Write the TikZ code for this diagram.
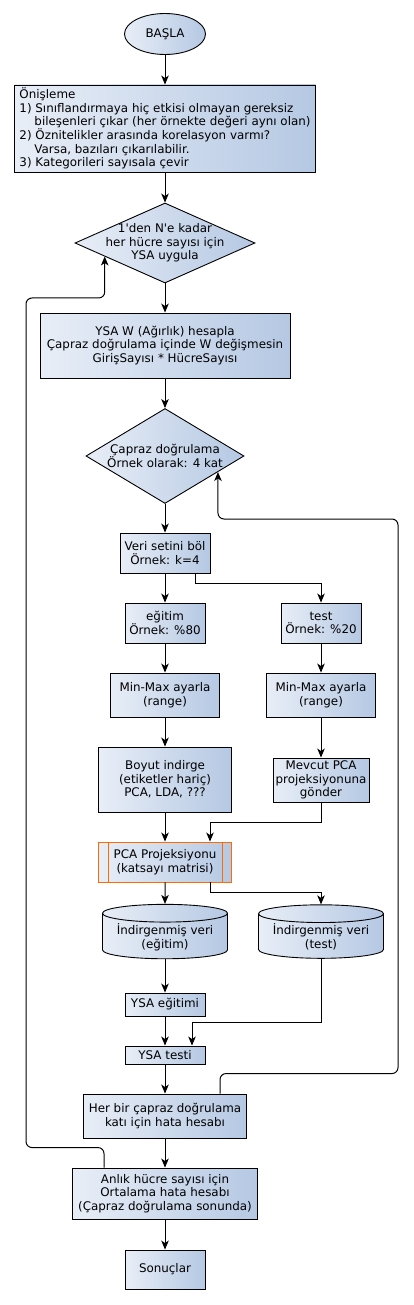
\documentclass[tikz,border=0pt]{standalone}
\usepackage{fontspec}
\setmainfont{DejaVu Sans}
\usetikzlibrary{arrows.meta,shapes.geometric,calc}

\definecolor{kutusol}{HTML}{E8EEF7}
\definecolor{kutusag}{HTML}{B5C8E3}
\definecolor{turuncu}{HTML}{FF6A00}

\tikzset{
	kutu/.style={draw, line width=0.9pt, left color=kutusol, right color=kutusag, align=center, inner sep=1pt},
	ok/.style={line width=1pt, -{Stealth[length=9pt,width=7.5pt,inset=2.5pt]}},
	silindir/.style={kutu, cylinder, shape border rotate=90, aspect=0.18, minimum width=125pt, minimum height=48pt},
	karar/.style={kutu, diamond, inner sep=0pt}
}

\begin{document}
\begin{tikzpicture}[x=1pt, y=-1pt, font=\fontsize{11.9}{13.6}\selectfont]
	
	\useasboundingbox (0,0) rectangle (414,1305);
	
	% start
	\node [kutu, ellipse, minimum width=81pt, minimum height=41pt] (basla) at (165,34) {BAŞLA};
	
	% preprocessing
	\node [kutu, align=left, minimum width=301pt, minimum height=87pt] (onisleme) at (165,128.5) {Önişleme\\
		1) Sınıflandırmaya hiç etkisi olmayan gereksiz\\
		\hspace*{15pt}bileşenleri çıkar (her örnekte değeri aynı olan)\\
		2) Öznitelikler arasında korelasyon varmı?\\
		\hspace*{15pt}Varsa, bazıları çıkarılabilir.\\
		3) Kategorileri sayısala çevir};
	
	% loop over cell counts
	\node [karar, minimum width=180pt, minimum height=80pt] (hucre) at (165,243) {};
	\node [align=center] (hucreyazi) at (hucre) {1\textquotesingle den N\textquotesingle e kadar\\her hücre sayısı için\\YSA uygula};
	
	% weights
	\node [kutu, minimum width=250pt, minimum height=65pt] (agirlik) at (165,345.5) {YSA W (Ağırlık) hesapla\\Çapraz doğrulama içinde W değişmesin\\GirişSayısı * HücreSayısı};
	
	% cross validation loop
	\node [karar, minimum width=158pt, minimum height=95pt] (kfold) at (165,456) {};
	\node [align=center] (kfoldyazi) at (kfold) {Çapraz doğrulama\\Örnek olarak: 4 kat};
	
	% split
	\node [kutu, minimum width=90pt, minimum height=40pt] (bol) at (165,553) {Veri setini böl\\Örnek: k=4};
	\node [kutu, minimum width=80pt, minimum height=40pt] (egitim) at (165,623) {eğitim\\Örnek: \%80};
	\node [kutu, minimum width=80pt, minimum height=40pt] (test) at (321,623) {test\\Örnek: \%20};
	
	% normalization
	\node [kutu, minimum width=109pt, minimum height=44pt] (minmaxe) at (165,695) {Min-Max ayarla\\(range)};
	\node [kutu, minimum width=109pt, minimum height=44pt] (minmaxt) at (321,695) {Min-Max ayarla\\(range)};
	
	% dimension reduction
	\node [kutu, minimum width=133pt, minimum height=65pt] (boyut) at (165,779.5) {Boyut indirge\\(etiketler hariç)\\PCA, LDA, ???};
	\node [kutu, minimum width=96pt, minimum height=44pt, inner sep=0pt] (mevcut) at (321,780) {Mevcut PCA\\projeksiyonuna\\gönder};
	
	% projection
	\node [kutu, draw=turuncu, minimum width=133pt, minimum height=40pt] (pca) at (165,862) {PCA Projeksiyonu\\(katsayı matrisi)};
	\draw [turuncu, line width=0.9pt] ([xshift=10pt]pca.north west) -- ([xshift=10pt]pca.south west);
	\draw [turuncu, line width=0.9pt] ([xshift=-10pt]pca.north east) -- ([xshift=-10pt]pca.south east);
	
	% reduced data
	\node [silindir] (indirgene) at (165,937) {İndirgenmiş veri\\(eğitim)};
	\node [silindir] (indirgent) at (321,937) {İndirgenmiş veri\\(test)};
	
	% network
	\node [kutu, minimum width=80pt, minimum height=23pt] (ysaegitim) at (165,1004.5) {YSA eğitimi};
	\node [kutu, minimum width=80pt, minimum height=18pt, inner sep=0pt] (ysatest) at (165,1055) {YSA testi};
	
	% errors
	\node [kutu, minimum width=163pt, minimum height=44pt] (hata) at (165,1116) {Her bir çapraz doğrulama\\katı için hata hesabı};
	\node [kutu, minimum width=185pt, minimum height=51pt] (ortalama) at (165,1193.5) {Anlık hücre sayısı için\\Ortalama hata hesabı\\(Çapraz doğrulama sonunda)};
	\node [kutu, minimum width=80pt, minimum height=39pt] (sonuc) at (165,1269.5) {Sonuçlar};
	
	% main flow
	\draw [ok] (basla.south) -- (onisleme.north);
	\draw [ok] (onisleme.south) -- (hucre.north);
	\draw [ok] (hucre.south) -- (agirlik.north);
	\draw [ok] (agirlik.south) -- (kfold.north);
	\draw [ok] (kfold.south) -- (bol.north);
	\draw [ok] (bol.south) -- (egitim.north);
	\draw [ok] ([xshift=30pt]bol.south) -- ++(0,10) -| (test.north);
	\draw [ok] (egitim.south) -- (minmaxe.north);
	\draw [ok] (test.south) -- (minmaxt.north);
	\draw [ok] (minmaxe.south) -- (boyut.north);
	\draw [ok] (minmaxt.south) -- (mevcut.north);
	\draw [ok] (boyut.south) -- (pca.north);
	\draw [ok] (mevcut.south) -- ++(0,20) -| ([xshift=45pt]pca.north);
	\draw [ok] (pca.south) -- (indirgene.north);
	\draw [ok] ([xshift=45pt]pca.south) -- ++(0,10) -| (indirgent.north);
	\draw [ok] (indirgene.south) -- (ysaegitim.north);
	\draw [ok] (ysaegitim.south) -- (ysatest.north);
	\draw [ok] (indirgent.south) |- ++(-129,64) -- ([xshift=27pt]ysatest.north);
	\draw [ok] (ysatest.south) -- (hata.north);
	\draw [ok] (hata.south) -- (ortalama.north);
	\draw [ok] (ortalama.south) -- (sonuc.north);
	
	% back to cross validation
	\coordinate (kfolddonus) at ($(kfold.east)!1/3!(kfold.south)$);
	\draw [ok, rounded corners=6pt] ([xshift=55pt]hata.north) -- ++(0,-20) -| (398,519) -- (kfolddonus |- 0,519) -- (kfolddonus);
	
	% back to cell loop
	\coordinate (hucredonus) at ($(hucre.west)!1/3!(hucre.south)$);
	\draw [ok, rounded corners=6pt] ([xshift=-61pt]ortalama.north) -- ++(0,-20) -| (26,298) -- (hucredonus |- 0,298) -- (hucredonus);
	
\end{tikzpicture}
\end{document}
